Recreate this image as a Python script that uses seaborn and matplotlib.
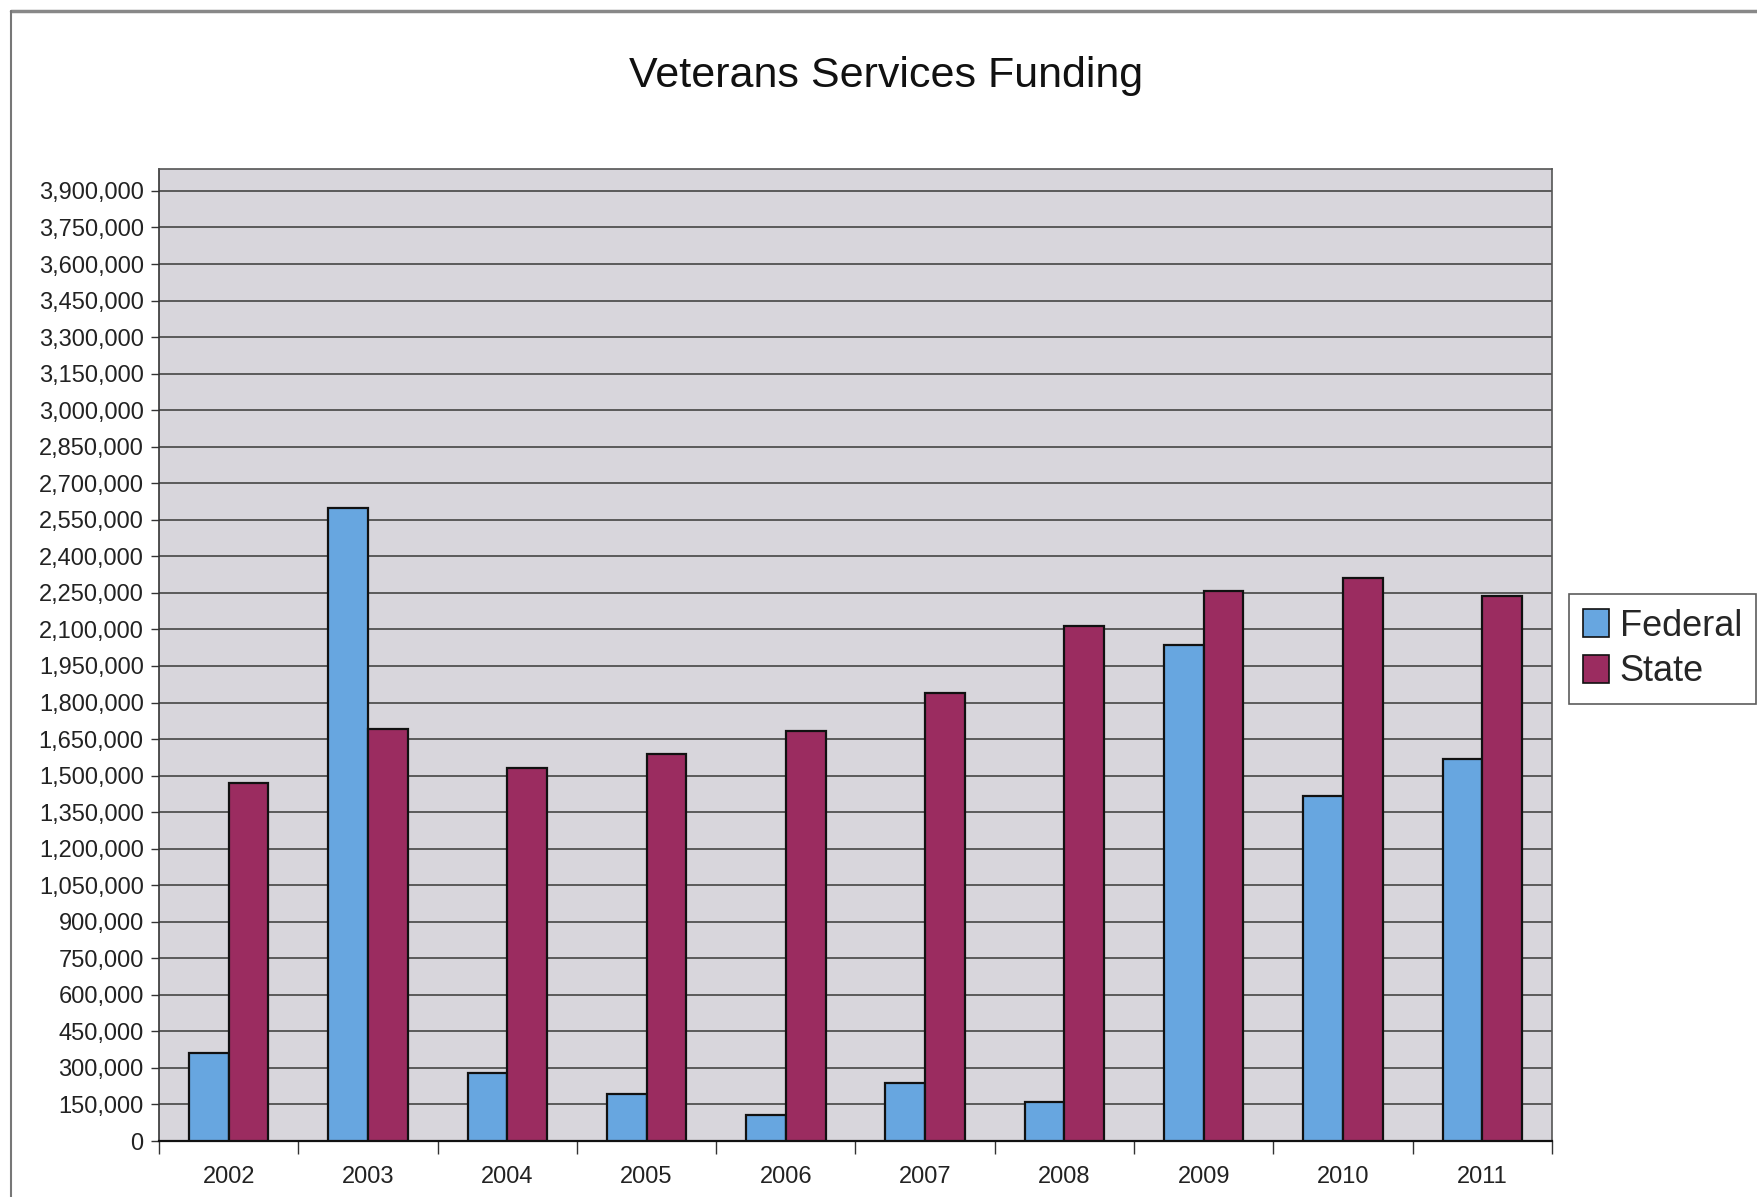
import matplotlib
matplotlib.use("Agg")
import matplotlib.pyplot as plt
import seaborn as sns
import pandas as pd
import numpy as np
from matplotlib.ticker import FuncFormatter, FixedLocator
from matplotlib.patches import Patch

years = ["2002", "2003", "2004", "2005", "2006", "2007", "2008", "2009", "2010", "2011"]
federal = [360000, 2600000, 280000, 193000, 106000, 239000, 161000, 2035000, 1418000, 1570000]
state = [1470000, 1690000, 1533000, 1589000, 1685000, 1837000, 2113000, 2256000, 2311000, 2238000]
series_names = ["Federal", "State"]
colors = ["#67a6e0", "#9b2c60"]

df = pd.DataFrame({
    "Year": years * 2,
    "Funding": federal + state,
    "Source": [series_names[0]] * len(years) + [series_names[1]] * len(years),
})

sns.set_theme(style="white")
plt.rcParams["font.family"] = ["Liberation Sans", "DejaVu Sans"]

fig = plt.figure(figsize=(17.58, 11.97), dpi=100)
ax = fig.add_axes([159 / 1758, 56 / 1197, (1552 - 159) / 1758, (1141 - 169) / 1197])

sns.barplot(data=df, x="Year", y="Funding", hue="Source", palette=colors,
            width=0.57, gap=0, edgecolor="#111111", linewidth=1.6,
            saturation=1, ax=ax, legend=False, zorder=3)

ax.set_facecolor("#d8d6dc")
ax.set_ylim(0, 3990000)
ax.set_xlim(-0.5, len(years) - 0.5)
yt = np.arange(0, 3900001, 150000)
ax.yaxis.set_major_locator(FixedLocator(yt))
ax.yaxis.set_major_formatter(FuncFormatter(lambda v, p: f"{int(v):,}"))
ax.grid(axis="y", color="#505050", linewidth=1.3, zorder=0)
ax.set_axisbelow(True)
ax.set_xlabel("")
ax.set_ylabel("")

# x ticks: labels at centers, tick marks at category boundaries
ax.set_xticks(range(len(years)))
ax.set_xticklabels(years)
ax.set_xticks(np.arange(-0.5, len(years), 1.0), minor=True)
ax.tick_params(axis="x", which="major", length=0, labelsize=17, pad=18, colors="#222222")
ax.tick_params(axis="x", which="minor", length=9, width=1, color="#333333", bottom=True)
ax.tick_params(axis="y", which="major", length=6, width=1, color="#333333", left=True,
               labelsize=17, pad=5, labelcolor="#222222")

for side in ["top", "right"]:
    ax.spines[side].set_color("#555555")
    ax.spines[side].set_linewidth(1.2)
ax.spines["left"].set_color("#333333")
ax.spines["left"].set_linewidth(1.2)
ax.spines["bottom"].set_color("#111111")
ax.spines["bottom"].set_linewidth(1.6)

fig.text(886 / 1758, 1 - 76 / 1197, "Veterans Services Funding", ha="center", va="center",
         fontsize=31, color="#111111")

handles = [Patch(facecolor=c, edgecolor="#111111", linewidth=1.2, label=n)
           for c, n in zip(colors, series_names)]
leg = fig.legend(handles=handles, loc="center left",
                 bbox_to_anchor=(1569 / 1758, 1 - 649 / 1197),
                 fontsize=26, frameon=True, fancybox=False, edgecolor="#333333",
                 handlelength=0.7, handleheight=0.8, handletextpad=0.3,
                 borderpad=0.4, labelspacing=0.3, borderaxespad=0)
leg.get_frame().set_linewidth(1.2)

# page frame lines (chart border)
fig.add_artist(plt.Line2D([11 / 1758, 1], [1 - 11 / 1197, 1 - 11 / 1197],
                          color="#888888", linewidth=2.5, transform=fig.transFigure))
fig.add_artist(plt.Line2D([11 / 1758, 11 / 1758], [0, 1 - 11 / 1197],
                          color="#777777", linewidth=1.5, transform=fig.transFigure))

fig.savefig("out.png", dpi=100, facecolor="white")
